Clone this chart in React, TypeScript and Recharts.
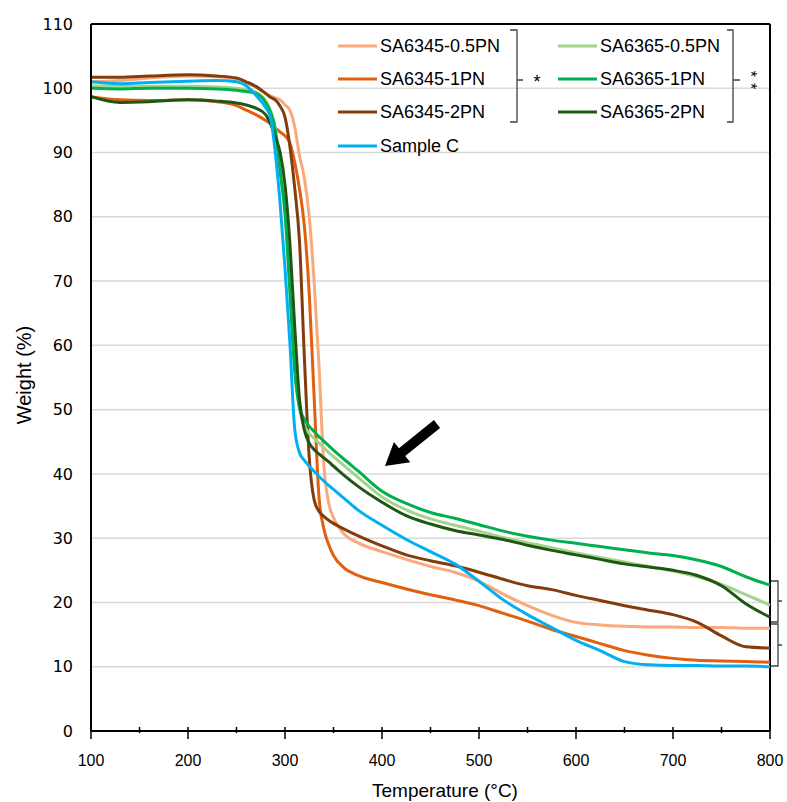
import React from "react";
import { CartesianGrid, Line, LineChart, ReferenceLine, XAxis, YAxis } from "recharts";

const temps = [100, 130, 160, 200, 230, 250, 260, 270, 280, 285, 290, 295, 300, 305, 310, 315, 320, 325, 330, 335, 340, 345, 350, 360, 375, 400, 425, 450, 475, 500, 525, 550, 575, 600, 625, 650, 675, 700, 725, 750, 775, 800];

const sa6345_05 = [101.0, 101.2, 101.6, 101.9, 101.8, 101.4, 100.9, 100.2, 99.2, 98.8, 98.5, 98.2, 97.4, 96.6, 94.0, 89.5, 86.0, 80.0, 70.0, 57.0, 41.5, 35.5, 33.2, 30.8, 29.3, 27.9, 26.7, 25.6, 24.7, 23.3, 21.3, 19.5, 18.0, 16.9, 16.5, 16.3, 16.2, 16.2, 16.1, 16.1, 16.0, 16.0];
const sa6345_1 = [98.7, 98.2, 98.1, 98.2, 97.9, 97.3, 96.6, 95.9, 95.0, 94.5, 93.8, 93.2, 92.6, 91.5, 88.5, 84.3, 78.5, 68.0, 52.0, 36.5, 31.5, 29.0, 27.3, 25.5, 24.2, 23.1, 22.1, 21.2, 20.4, 19.5, 18.3, 17.1, 15.8, 14.7, 13.6, 12.5, 11.8, 11.3, 11.0, 10.9, 10.8, 10.7];
const sa6345_2 = [101.7, 101.7, 101.9, 102.1, 101.9, 101.6, 101.0, 100.3, 99.2, 98.6, 98.2, 97.2, 95.5, 91.0, 84.5, 76.0, 58.0, 42.5, 36.0, 34.2, 33.4, 32.8, 32.3, 31.5, 30.4, 28.8, 27.4, 26.5, 25.7, 24.7, 23.6, 22.6, 22.0, 21.1, 20.3, 19.5, 18.8, 18.1, 16.9, 14.8, 13.1, 12.9];
const sa6365_05 = [100.4, 100.3, 100.3, 100.3, 100.2, 100.0, 99.8, 99.4, 98.1, 96.6, 93.8, 87.5, 81.0, 69.0, 57.0, 50.0, 47.5, 46.3, 45.5, 44.8, 44.1, 43.3, 42.7, 41.4, 39.5, 36.4, 34.4, 33.0, 32.0, 31.1, 30.1, 29.3, 28.5, 27.7, 27.0, 26.3, 25.6, 24.9, 24.0, 22.8, 21.2, 19.6];
const sa6365_1 = [100.0, 99.9, 100.0, 100.0, 99.9, 99.7, 99.5, 99.2, 97.8, 96.3, 93.5, 87.0, 80.5, 68.5, 56.0, 50.3, 48.5, 47.4, 46.6, 45.8, 45.1, 44.4, 43.7, 42.4, 40.5, 37.3, 35.4, 34.0, 33.1, 32.1, 31.1, 30.3, 29.7, 29.2, 28.7, 28.2, 27.7, 27.3, 26.6, 25.6, 24.0, 22.7];
const sa6365_2 = [98.7, 97.8, 97.9, 98.2, 98.0, 97.7, 97.4, 96.9, 95.9, 94.5, 92.5, 90.0, 85.0, 76.0, 63.0, 51.5, 46.8, 44.8, 43.8, 43.1, 42.5, 41.9, 41.2, 39.9, 38.1, 35.6, 33.5, 32.2, 31.2, 30.5, 29.8, 28.9, 28.1, 27.4, 26.7, 26.0, 25.5, 25.0, 24.2, 22.6, 19.8, 17.7];
const sampleC = [101.0, 100.7, 100.9, 101.1, 101.2, 101.0, 100.4, 98.9, 97.0, 95.5, 90.0, 82.0, 72.0, 60.5, 47.0, 43.3, 42.1, 41.2, 40.4, 39.6, 38.9, 38.2, 37.6, 36.3, 34.4, 32.0, 29.8, 27.9, 26.0, 23.3, 20.4, 18.1, 16.1, 14.1, 12.5, 10.8, 10.3, 10.2, 10.2, 10.1, 10.1, 10.0];

const xTicks = [100, 150, 200, 250, 300, 350, 400, 450, 500, 550, 600, 650, 700, 750, 800];
const yTicks = [0, 10, 20, 30, 40, 50, 60, 70, 80, 90, 100, 110];

const series = [
  { key: "a05", name: "SA6345-0.5PN", color: "#F9A97C", values: sa6345_05 },
  { key: "a1", name: "SA6345-1PN", color: "#E0600F", values: sa6345_1 },
  { key: "a2", name: "SA6345-2PN", color: "#843C0C", values: sa6345_2 },
  { key: "b05", name: "SA6365-0.5PN", color: "#A3D48C", values: sa6365_05 },
  { key: "b1", name: "SA6365-1PN", color: "#00B050", values: sa6365_1 },
  { key: "b2", name: "SA6365-2PN", color: "#1F5614", values: sa6365_2 },
  { key: "c", name: "Sample C", color: "#00B0F0", values: sampleC },
];

const rows = temps.map((t, i) => {
  const row: Record<string, number> = { t };
  series.forEach((s) => (row[s.key] = s.values[i]));
  return row;
});

const legendFont = "'Liberation Sans', Arial, sans-serif";

function XTick({ x, y, payload }: any) {
  const major = payload.value % 100 === 0;
  return (
    <g>
      <line x1={x} x2={x} y1={y - 6} y2={major ? y + 6 : y} stroke="#000" strokeWidth={1.5} />
      {major && (
        <text x={x} y={y + 33} textAnchor="middle" fontSize={16} fontFamily={legendFont} fill="#000">
          {payload.value}
        </text>
      )}
    </g>
  );
}

function LegendItem({ x, y, color, label }: { x: number; y: number; color: string; label: string }) {
  return (
    <g>
      <line x1={x} x2={x + 39} y1={y} y2={y} stroke={color} strokeWidth={3} />
      <text x={x + 42} y={y + 6} fontSize={18} fontFamily={legendFont} fill="#000">
        {label}
      </text>
    </g>
  );
}

function Overlay() {
  const col1 = series.slice(0, 3);
  const col2 = series.slice(3, 6);
  const rowsY = [46, 79, 112];
  return (
    <svg width={787} height={802} style={{ position: "absolute", left: 0, top: 0, pointerEvents: "none" }}>
      {col1.map((s, i) => (
        <LegendItem key={s.key} x={338} y={rowsY[i]} color={s.color} label={s.name} />
      ))}
      {col2.map((s, i) => (
        <LegendItem key={s.key} x={558} y={rowsY[i]} color={s.color} label={s.name} />
      ))}
      <LegendItem x={338} y={146} color={series[6].color} label={series[6].name} />
      <g fill="none" stroke="#404040" strokeWidth={1.3}>
        <path d="M510 30 H517 V122 H510 M517 80 H523" />
        <path d="M727 30 H733 V122 H727 M733 80 H740" />
        <path d="M771 581 H778 V622 H771 M778 601 H782" />
        <path d="M771 624 H778 V666 H771 M778 645 H782" />
      </g>
      <text x={537} y={88} textAnchor="middle" fontSize={18} fontFamily={legendFont}>*</text>
      <text
        x={0}
        y={0}
        transform="translate(745 83) rotate(90)"
        textAnchor="middle"
        fontSize={16}
        letterSpacing={6}
        fontFamily={legendFont}
      >
        **
      </text>
      <polygon
        points="440.1,427.9 405.2,456.1 410.3,462.3 385,466 393.9,442.1 399,448.3 433.9,420.1"
        fill="#000"
      />
      <text
        x={0}
        y={0}
        transform="translate(31 375) rotate(-90)"
        textAnchor="middle"
        fontSize={20}
        fontFamily={legendFont}
        fill="#000"
      >
        Weight (%)
      </text>
      <text x={445} y={797} textAnchor="middle" fontSize={19} fontFamily={legendFont} fill="#000">
        Temperature (°C)
      </text>
    </svg>
  );
}

export default function App() {
  return (
    <div style={{ position: "absolute", left: 0, top: 0, width: 787, height: 802, background: "#fff" }}>
      <LineChart width={787} height={802} data={rows} margin={{ top: 24, right: 17, bottom: 0, left: 0 }}>
        <CartesianGrid vertical={false} stroke="#d9d9d9" strokeWidth={1.5} />
        <XAxis
          type="number"
          dataKey="t"
          domain={[100, 800]}
          ticks={xTicks}
          interval={0}
          tick={<XTick />}
          tickLine={false}
          tickSize={0}
          height={71}
          axisLine={{ stroke: "#000", strokeWidth: 2 }}
        />
        <YAxis
          type="number"
          domain={[0, 110]}
          ticks={yTicks}
          interval={0}
          width={91}
          tickLine={false}
          tickSize={0}
          tickMargin={18}
          tick={{ fill: "#000", fontSize: 16, fontFamily: "'DejaVu Sans', Verdana, sans-serif" }}
          axisLine={{ stroke: "#000", strokeWidth: 2 }}
        />
        <ReferenceLine y={110} stroke="#000" strokeWidth={2} />
        <ReferenceLine x={800} stroke="#000" strokeWidth={2} />
        {series.map((s) => (
          <Line
            key={s.key}
            type="monotone"
            dataKey={s.key}
            name={s.name}
            stroke={s.color}
            strokeWidth={3}
            dot={false}
            isAnimationActive={false}
          />
        ))}
      </LineChart>
      <Overlay />
    </div>
  );
}
